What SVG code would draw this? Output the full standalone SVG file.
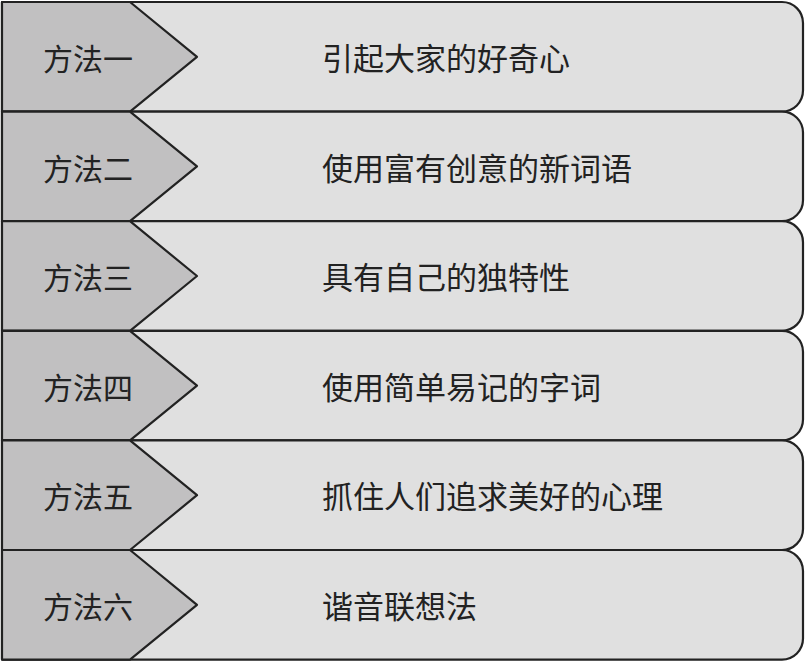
<svg xmlns="http://www.w3.org/2000/svg" width="806" height="663" viewBox="0 0 806 663">
<style>
.box{fill:#e0e0e0;stroke:#222;stroke-width:2.2;stroke-linejoin:round}
.tag{fill:#c1c0c1;stroke:#222;stroke-width:2.2;stroke-linejoin:round}
text{font-family:"Noto Sans CJK SC","Noto Sans CJK TC",sans-serif;fill:#222}
.l{font-size:30px}
.r{font-size:31px}
</style>
<rect x="0" y="0" width="806" height="663" fill="#ffffff"/>
<g id="row1" transform="translate(0,2)">
<path class="box" d="M2,0 H782 A21,21 0 0 1 803,21 V88.6 A21,21 0 0 1 782,109.6 H2 Z"/>
<path class="tag" d="M2,0 H130 L197,54.8 L130,109.6 H2 Z"/>
<text class="l" x="43" y="68">方法一</text>
<text class="r" x="322" y="68">引起大家的好奇心</text>
</g>
<g id="row2" transform="translate(0,111.6)">
<path class="box" d="M2,0 H782 A21,21 0 0 1 803,21 V88.6 A21,21 0 0 1 782,109.6 H2 Z"/>
<path class="tag" d="M2,0 H130 L197,54.8 L130,109.6 H2 Z"/>
<text class="l" x="43" y="68">方法二</text>
<text class="r" x="322" y="68">使用富有创意的新词语</text>
</g>
<g id="row3" transform="translate(0,221.2)">
<path class="box" d="M2,0 H782 A21,21 0 0 1 803,21 V88.6 A21,21 0 0 1 782,109.6 H2 Z"/>
<path class="tag" d="M2,0 H130 L197,54.8 L130,109.6 H2 Z"/>
<text class="l" x="43" y="68">方法三</text>
<text class="r" x="322" y="68">具有自己的独特性</text>
</g>
<g id="row4" transform="translate(0,330.8)">
<path class="box" d="M2,0 H782 A21,21 0 0 1 803,21 V88.6 A21,21 0 0 1 782,109.6 H2 Z"/>
<path class="tag" d="M2,0 H130 L197,54.8 L130,109.6 H2 Z"/>
<text class="l" x="43" y="68">方法四</text>
<text class="r" x="322" y="68">使用简单易记的字词</text>
</g>
<g id="row5" transform="translate(0,440.4)">
<path class="box" d="M2,0 H782 A21,21 0 0 1 803,21 V88.6 A21,21 0 0 1 782,109.6 H2 Z"/>
<path class="tag" d="M2,0 H130 L197,54.8 L130,109.6 H2 Z"/>
<text class="l" x="43" y="68">方法五</text>
<text class="r" x="322" y="68">抓住人们追求美好的心理</text>
</g>
<g id="row6" transform="translate(0,550)">
<path class="box" d="M2,0 H782 A21,21 0 0 1 803,21 V88.6 A21,21 0 0 1 782,109.6 H2 Z"/>
<path class="tag" d="M2,0 H130 L197,54.8 L130,109.6 H2 Z"/>
<text class="l" x="43" y="68">方法六</text>
<text class="r" x="322" y="68">谐音联想法</text>
</g>
<g id="connectors"></g>
</svg>
